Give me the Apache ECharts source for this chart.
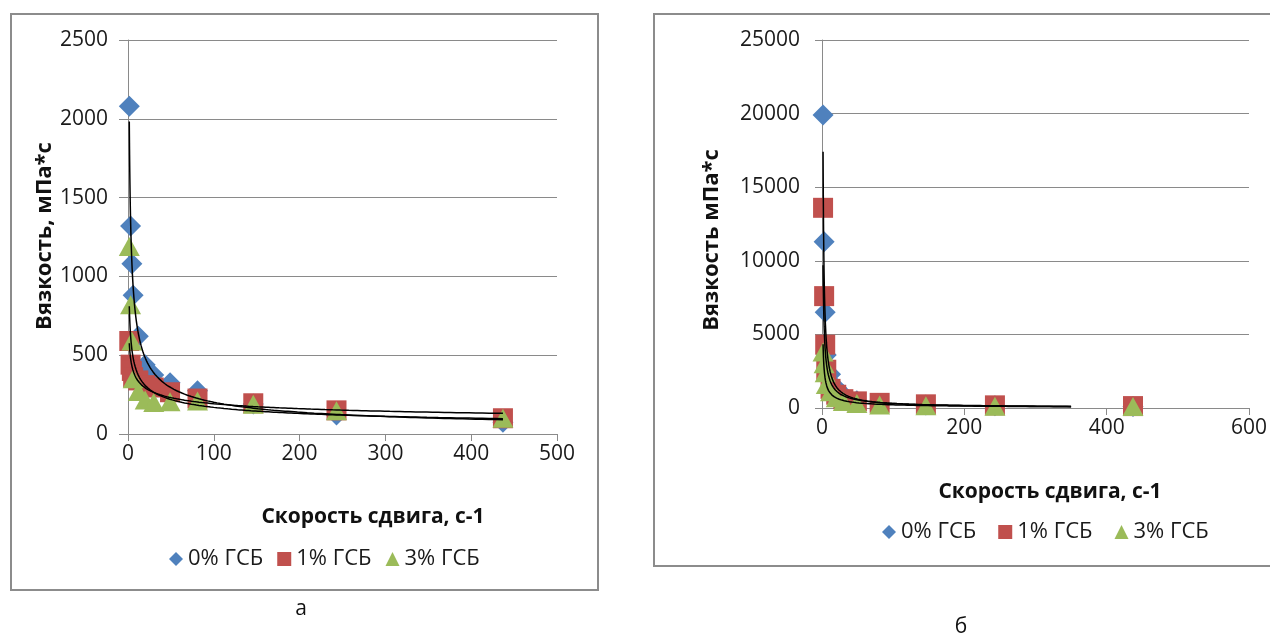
<!DOCTYPE html>
<html><head><meta charset="utf-8">
<script src="https://cdn.jsdelivr.net/npm/echarts@6/dist/echarts.min.js"></script>
<style>html,body{margin:0;padding:0;background:#fff}#c{width:1270px;height:637px}</style>
</head><body><div id="c"></div>
<script>
// ---- data ----
const seriesNames = ['0% ГСБ', '1% ГСБ', '3% ГСБ'];
const shearRate = [1.5, 3, 4.5, 6, 12, 20, 30, 49, 81, 146, 243, 437];
// chart "а"
const viscA0 = [2080, 1320, 1080, 880, 620, 440, 375, 325, 275, 190, 120, 75];
const viscA1 = [590, 440, 400, 360, 340, 310, 295, 265, 225, 195, 150, 100];
const viscA3 = [1190, 820, 590, 350, 270, 215, 200, 205, 210, 188, 148, 100];
// chart "б"
const viscB0 = [19900, 11300, 6500, 3600, 2300, 1400, 900, 500, 300, 200, 150, 100];
const viscB1 = [13600, 7600, 4300, 2600, 1300, 900, 600, 450, 350, 250, 180, 130];
const viscB3 = [3800, 3000, 2400, 1600, 1100, 700, 450, 300, 200, 150, 120, 100];
// axis ticks
const xTicksA = {min: 0, max: 500, interval: 100};
const yTicksA = {min: 0, max: 2500, interval: 500};
const xTicksB = {min: 0, max: 600, interval: 200};
const yTicksB = {min: 0, max: 25000, interval: 5000};
const trendEndA = 437;
const trendEndB = 350;

const colors = ['#4F81BD', '#C0504D', '#9BBB59'];
const symbols = ['diamond', 'rect', 'triangle'];
const symSizes = [21, 20, [21, 19]];
const FONT = 'Open Sans';
const FS = 21;
const GRID_C = '#8a8a8a';

function powerFit(xs, ys) {
  let n = xs.length, sx = 0, sy = 0, sxx = 0, sxy = 0;
  for (let i = 0; i < n; i++) {
    const lx = Math.log(xs[i]), ly = Math.log(ys[i]);
    sx += lx; sy += ly; sxx += lx * lx; sxy += lx * ly;
  }
  const b = (n * sxy - sx * sy) / (n * sxx - sx * sx);
  const a = Math.exp((sy - b * sx) / n);
  return {a, b};
}
function trendPoints(xs, ys, x0, x1) {
  const f = powerFit(xs, ys), pts = [], N = 300;
  for (let i = 0; i <= N; i++) {
    const x = Math.exp(Math.log(x0) + (Math.log(x1) - Math.log(x0)) * i / N);
    pts.push([x, f.a * Math.pow(x, f.b)]);
  }
  return pts;
}
const zip = (xs, ys) => xs.map((x, i) => [x, ys[i]]);
const plain = v => String(v);

function axisX(gi, t, margin) {
  return {
    type: 'value', gridIndex: gi, min: t.min, max: t.max, interval: t.interval,
    axisLine: {show: true, lineStyle: {color: GRID_C, width: 1}},
    axisTick: {show: true, inside: false, length: 7, lineStyle: {color: GRID_C}},
    splitLine: {show: false},
    axisLabel: {color: '#1a1a1a', fontFamily: FONT, fontSize: FS, margin: margin, formatter: plain}
  };
}
function axisY(gi, t, margin, tickLen) {
  return {
    type: 'value', gridIndex: gi, min: t.min, max: t.max, interval: t.interval,
    axisLine: {show: true, lineStyle: {color: GRID_C, width: 1}},
    axisTick: {show: true, inside: false, length: tickLen, lineStyle: {color: GRID_C}},
    splitLine: {show: true, lineStyle: {color: GRID_C, width: 1}},
    axisLabel: {color: '#1a1a1a', fontFamily: FONT, fontSize: FS, margin: margin, formatter: plain}
  };
}

const series = [];
const dataA = [viscA0, viscA1, viscA3], dataB = [viscB0, viscB1, viscB3];
[dataA, dataB].forEach((set, gi) => {
  set.forEach((ys, k) => {
    series.push({
      type: 'scatter', name: seriesNames[k], xAxisIndex: gi, yAxisIndex: gi,
      symbol: symbols[k], symbolSize: symSizes[k], data: zip(shearRate, ys),
      itemStyle: {color: colors[k], opacity: 1}, z: 2 + k
    });
  });
  set.forEach((ys, k) => {
    series.push({
      type: 'line', name: 'trend' + gi + k, xAxisIndex: gi, yAxisIndex: gi,
      showSymbol: false, symbol: 'none', silent: true, clip: true,
      data: trendPoints(shearRate, ys, shearRate[0], gi === 0 ? trendEndA : trendEndB),
      lineStyle: {color: '#000', width: 1.5}, z: 10
    });
  });
});

const legendData = seriesNames.map((n, k) => ({name: n, icon: symbols[k]}));
function legendAt(left, top, gap, pad) {
  return {left: left, top: top, data: legendData, itemWidth: 14, itemHeight: 14, itemGap: gap,
    textStyle: {fontFamily: FONT, fontSize: 22, color: '#1a1a1a', padding: [0, 0, 0, pad]}, selectedMode: false};
}
const chart = echarts.init(document.getElementById('c'), null, {renderer: 'canvas'});
chart.setOption({
  animation: false,
  backgroundColor: '#fff',
  grid: [
    {left: 128, top: 40, width: 429, height: 394},
    {left: 822, top: 40, width: 432, height: 368}
  ],
  xAxis: [axisX(0, xTicksA, 10), axisX(1, xTicksB, 10)],
  yAxis: [axisY(0, yTicksA, 20, 9), axisY(1, yTicksB, 22, 7)],
  legend: [legendAt(164, 543, 14, 0), legendAt(877, 516, 22, 0)],
  graphic: [
    {type: 'rect', shape: {x: 11, y: 14, width: 587, height: 576}, style: {fill: 'none', stroke: '#8c8c8c', lineWidth: 2}, z: -1},
    {type: 'rect', shape: {x: 654, y: 14, width: 630, height: 552}, style: {fill: 'none', stroke: '#8c8c8c', lineWidth: 2}, z: -1},
    {type: 'text', x: 373, y: 517, style: {text: 'Скорость сдвига, с-1', font: 'bold 21px "Open Sans"', fill: '#111', align: 'center', verticalAlign: 'middle'}},
    {type: 'text', x: 1050, y: 492, style: {text: 'Скорость сдвига, с-1', font: 'bold 21px "Open Sans"', fill: '#111', align: 'center', verticalAlign: 'middle'}},
    {type: 'text', x: 45, y: 236, rotation: Math.PI / 2, style: {text: 'Вязкость, мПа*с', font: 'bold 22px "Open Sans"', fill: '#111', align: 'center', verticalAlign: 'middle'}},
    {type: 'text', x: 712, y: 240, rotation: Math.PI / 2, style: {text: 'Вязкость мПа*с', font: 'bold 22px "Open Sans"', fill: '#111', align: 'center', verticalAlign: 'middle'}},
    {type: 'text', x: 301, y: 609, style: {text: 'а', font: '21px "Open Sans"', fill: '#111', align: 'center', verticalAlign: 'middle'}},
    {type: 'text', x: 961, y: 627, style: {text: 'б', font: '21px "Open Sans"', fill: '#111', align: 'center', verticalAlign: 'middle'}}
  ],
  series: series
});
</script></body></html>
